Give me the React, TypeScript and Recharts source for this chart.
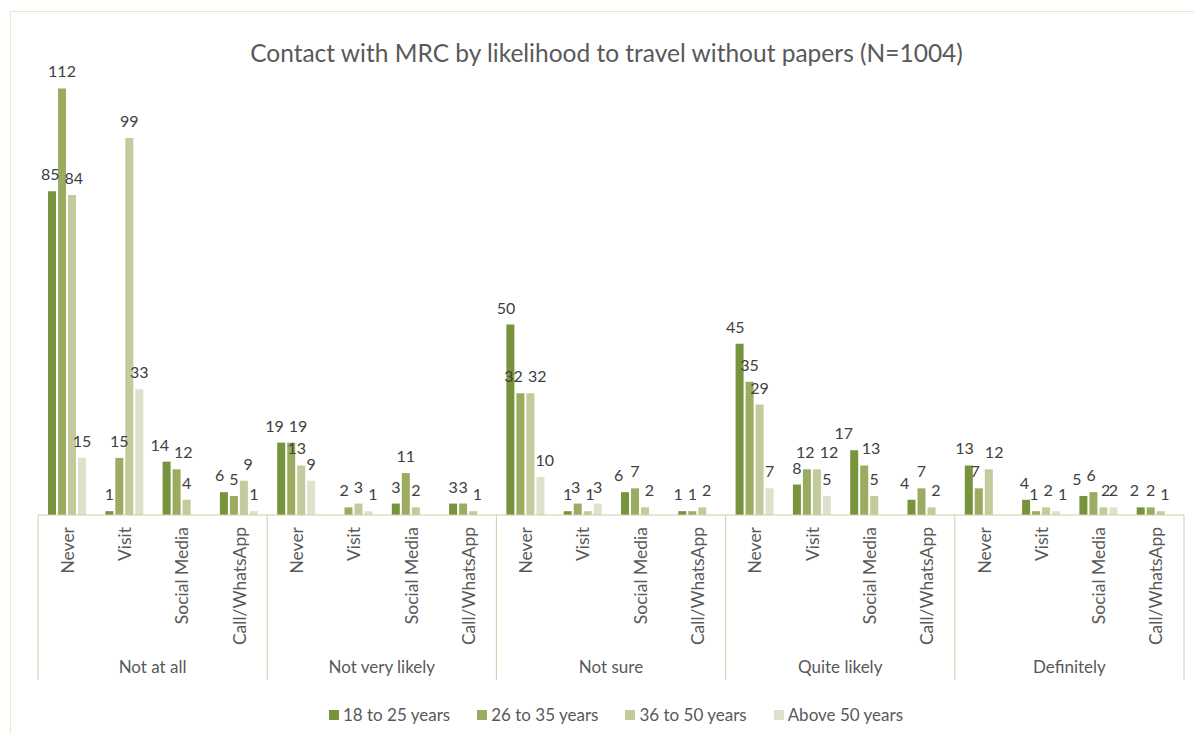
import { BarChart, Bar, XAxis, YAxis, Legend, LabelList } from "recharts";

const groups = ["Not at all", "Not very likely", "Not sure", "Quite likely", "Definitely"];
const contacts = ["Never", "Visit", "Social Media", "Call/WhatsApp"];

// one value per (group, contact) in the order above; null = no bar
const age18to25 = [85, 1, 14, 6, 19, null, 3, 3, 50, 1, 6, 1, 45, 8, 17, 4, 13, 4, 5, 2];
const age26to35 = [112, 15, 12, 5, 19, 2, 11, 3, 32, 3, 7, 1, 35, 12, 13, 7, 7, 1, 6, 2];
const age36to50 = [84, 99, 4, 9, 13, 3, 2, 1, 32, 1, 2, 2, 29, 12, 5, 2, 12, 2, 2, 1];
const above50 = [15, 33, null, 1, 9, 1, null, null, 10, 3, null, null, 7, 5, null, null, null, 1, 2, null];

const seriesNames = ["18 to 25 years", "26 to 35 years", "36 to 50 years", "Above 50 years"];
const seriesColors = ["#77933c", "#9bab60", "#c3ca9b", "#dee2cc"];
const keys = ["a", "b", "c", "d"];
const Y_MAX = 120;

const rows = age18to25.map((v, i) => ({
  group: groups[Math.floor(i / contacts.length)],
  sub: contacts[i % contacts.length],
  a: v,
  b: age26to35[i],
  c: age36to50[i],
  d: above50[i],
}));

const W = 1186;
const H = 726;
const M = { top: 50, right: 10, left: 30, bottom: 9 };
const PLOT_W = W - M.left - M.right;
const PLOT_H = 458;
const BAND = PLOT_W / rows.length;
const BAR = 8;
const GAP = 2;
const FONT = "Lato, 'Open Sans', sans-serif";
const LINE = "#c9d2a6";
const LABEL_OFFSET = 11;
const LABEL_SIZE = 16;

// nudge value labels of one category sideways so neighbours don't collide
function labelShifts(vals: (number | null)[]) {
  const k = PLOT_H / Y_MAX;
  const pitch = BAR + GAP;
  const digit = LABEL_SIZE * 0.58;
  const cx = vals.map((_, i) => i * pitch);
  const idx = vals.map((v, i) => (v == null ? -1 : i)).filter((i) => i >= 0);
  for (let it = 0; it < 40; it++) {
    for (let p = 0; p < idx.length; p++) {
      for (let q = p + 1; q < idx.length; q++) {
        const a = idx[p];
        const b = idx[q];
        const va = vals[a] as number;
        const vb = vals[b] as number;
        if (Math.abs(va - vb) * k >= 20) continue;
        const need = ((String(va).length + String(vb).length) * digit) / 2 + 5;
        const d = cx[b] - cx[a];
        if (d < need) {
          const push = (need - d) / 2;
          cx[a] -= push;
          cx[b] += push;
        }
      }
    }
  }
  return cx.map((c, i) => c - i * pitch);
}

const shifts = rows.map((r) => labelShifts([r.a, r.b, r.c, r.d]));

const makeLabel = (s: number) => (props: any) => {
  const { x, y, width, value, index } = props;
  if (value == null) return null;
  return (
    <text
      x={x + width / 2 + shifts[index][s]}
      y={y - LABEL_OFFSET}
      textAnchor="middle"
      fontSize={LABEL_SIZE}
      fill="#404040"
      fontFamily={FONT}
    >
      {value}
    </text>
  );
};

const SubTick = (props: any) => {
  const { x, y, payload, index } = props;
  const lines = [];
  if (index % contacts.length === 0) lines.push(x - BAND / 2);
  if (index === rows.length - 1) lines.push(x + BAND / 2);
  return (
    <g>
      {lines.map((lx) => (
        <line key={lx} x1={lx} x2={lx} y1={y} y2={y + 165} stroke={LINE} strokeWidth={1} />
      ))}
      <text
        transform={`translate(${x + 1},${y + 12}) rotate(-90)`}
        textAnchor="end"
        dy="0.35em"
        fontSize={17.5}
        fill="#595959"
        fontFamily={FONT}
      >
        {payload.value}
      </text>
    </g>
  );
};

const GroupTick = (props: any) => {
  const { x, y, payload } = props;
  return (
    <text x={x} y={y} dy={18} textAnchor="middle" fontSize={17} fill="#595959" fontFamily={FONT}>
      {payload.value}
    </text>
  );
};

const LegendBox = () => (
  <div style={{ display: "flex", justifyContent: "center", gap: 27, paddingTop: 19, paddingLeft: 10, fontFamily: FONT, fontSize: 17, color: "#595959" }}>
    {seriesNames.map((n, i) => (
      <div key={n} style={{ display: "flex", alignItems: "center" }}>
        <span style={{ width: 10, height: 10, background: seriesColors[i], marginRight: 4, display: "inline-block" }} />
        {n}
      </div>
    ))}
  </div>
);

export default function App() {
  return (
    <div style={{ position: "relative", width: W, height: H, fontFamily: FONT }}>
      <div style={{ position: "absolute", left: 2, top: 3, width: 1300, height: 800, borderLeft: "1px solid #f6e3c2", borderTop: "1px solid #f6e3c2", pointerEvents: "none" }} />
      <div style={{ position: "absolute", left: 0, top: 30, width: 1197, textAlign: "center", fontSize: 24.5, color: "#595959" }}>
        Contact with MRC by likelihood to travel without papers (N=1004)
      </div>
      <BarChart width={W} height={H} data={rows} margin={M} barSize={BAR} barGap={GAP}>
        <XAxis
          dataKey="sub"
          height={140}
          interval={0}
          tickSize={0}
          tickMargin={0}
          tickLine={false}
          axisLine={{ stroke: LINE }}
          tick={<SubTick />}
        />
        <XAxis
          xAxisId="g"
          dataKey="group"
          allowDuplicatedCategory={false}
          height={30}
          interval={0}
          tickSize={0}
          tickMargin={0}
          tickLine={false}
          axisLine={false}
          tick={<GroupTick />}
        />
        <YAxis hide domain={[0, Y_MAX]} />
        <Legend verticalAlign="bottom" content={<LegendBox />} />
        {keys.map((k, i) => (
          <Bar key={k} dataKey={k} name={seriesNames[i]} fill={seriesColors[i]} isAnimationActive={false}>
            <LabelList dataKey={k} content={makeLabel(i)} />
          </Bar>
        ))}
      </BarChart>
    </div>
  );
}
